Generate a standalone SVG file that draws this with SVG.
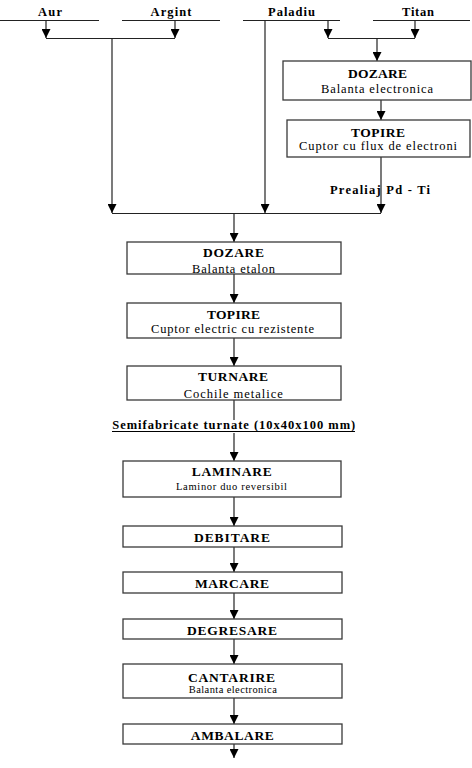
<svg xmlns="http://www.w3.org/2000/svg" width="472" height="768" viewBox="0 0 472 768">
<style>
.bg{fill:#fff}
.box{fill:#fff;stroke:#3a3a3a;stroke-width:1.3}
.ln{fill:none;stroke:#222;stroke-width:1.2}
.t{font-family:"Liberation Serif","Times New Roman",serif;font-weight:bold;font-size:13.5px;fill:#000;text-anchor:middle}
.s{font-family:"Liberation Serif","Times New Roman",serif;font-size:12.5px;fill:#000;text-anchor:middle}
.ss{font-family:"Liberation Serif","Times New Roman",serif;font-size:10.5px;fill:#000;text-anchor:middle}
.lab{font-family:"Liberation Serif","Times New Roman",serif;font-weight:bold;font-size:12.5px;fill:#000;text-anchor:middle}
</style>
<defs>
<marker id="ah" viewBox="0 0 10 10" refX="10" refY="5" markerWidth="9" markerHeight="9" markerUnits="userSpaceOnUse" orient="auto">
<path d="M0,0 L10,5 L0,10 Z" fill="#000"/>
</marker>
</defs>
<rect class="bg" x="0" y="0" width="472" height="768"/>

<g id="connectors">
<line class="ln" x1="0" y1="20.5" x2="99" y2="20.5"/>
<line class="ln" x1="122" y1="20.5" x2="220" y2="20.5"/>
<line class="ln" x1="243" y1="20.5" x2="340" y2="20.5"/>
<line class="ln" x1="373" y1="20.5" x2="470" y2="20.5"/>
<line class="ln" x1="46" y1="20.5" x2="46" y2="38" marker-end="url(#ah)"/>
<line class="ln" x1="175" y1="20.5" x2="175" y2="38" marker-end="url(#ah)"/>
<line class="ln" x1="46" y1="38.5" x2="175" y2="38.5"/>
<line class="ln" x1="112" y1="38.5" x2="112" y2="213" marker-end="url(#ah)"/>
<line class="ln" x1="265" y1="20.5" x2="265" y2="213" marker-end="url(#ah)"/>
<line class="ln" x1="328" y1="20.5" x2="328" y2="38" marker-end="url(#ah)"/>
<line class="ln" x1="415" y1="20.5" x2="415" y2="38" marker-end="url(#ah)"/>
<line class="ln" x1="328" y1="38.5" x2="415" y2="38.5"/>
<line class="ln" x1="377" y1="38.5" x2="377" y2="61" marker-end="url(#ah)"/>
<line class="ln" x1="381" y1="100" x2="381" y2="120" marker-end="url(#ah)"/>
<line class="ln" x1="381" y1="157" x2="381" y2="213" marker-end="url(#ah)"/>
<line class="ln" x1="112" y1="213.5" x2="381" y2="213.5"/>
<line class="ln" x1="234" y1="213.5" x2="234" y2="242" marker-end="url(#ah)"/>
<line class="ln" x1="234" y1="274" x2="234" y2="303" marker-end="url(#ah)"/>
<line class="ln" x1="234" y1="338" x2="234" y2="366" marker-end="url(#ah)"/>
<line class="ln" x1="234" y1="400" x2="234" y2="420"/>
<line class="ln" x1="234" y1="433" x2="234" y2="461" marker-end="url(#ah)"/>
<line class="ln" x1="234" y1="497" x2="234" y2="526" marker-end="url(#ah)"/>
<line class="ln" x1="234" y1="547" x2="234" y2="572" marker-end="url(#ah)"/>
<line class="ln" x1="234" y1="593" x2="234" y2="619" marker-end="url(#ah)"/>
<line class="ln" x1="234" y1="639" x2="234" y2="664" marker-end="url(#ah)"/>
<line class="ln" x1="234" y1="698" x2="234" y2="724" marker-end="url(#ah)"/>
<line class="ln" x1="234" y1="744" x2="234" y2="758" marker-end="url(#ah)"/>
</g>

<g id="input-aur"><text class="lab" x="50" y="16" textLength="24" lengthAdjust="spacing">Aur</text></g>
<g id="input-argint"><text class="lab" x="171" y="16" textLength="41" lengthAdjust="spacing">Argint</text></g>
<g id="input-paladiu"><text class="lab" x="291.5" y="16" textLength="47" lengthAdjust="spacing">Paladiu</text></g>
<g id="input-titan"><text class="lab" x="418" y="16" textLength="32" lengthAdjust="spacing">Titan</text></g>

<g id="dozare-pdti">
<rect class="box" x="283" y="61" width="188" height="39"/>
<text class="t" x="377.5" y="78" textLength="59" lengthAdjust="spacing">DOZARE</text>
<text class="s" x="377" y="92.5" textLength="112" lengthAdjust="spacing">Balanta electronica</text>
</g>
<g id="topire-pdti">
<rect class="box" x="287" y="120" width="183" height="37"/>
<text class="t" x="378" y="136.5" textLength="54" lengthAdjust="spacing">TOPIRE</text>
<text class="s" x="378" y="150" textLength="158" lengthAdjust="spacing">Cuptor cu flux de electroni</text>
</g>
<g id="label-prealiaj">
<text class="lab" x="380" y="194" textLength="100" lengthAdjust="spacing">Prealiaj Pd - Ti</text>
</g>

<g id="dozare">
<rect class="box" x="127" y="242" width="214" height="32"/>
<text class="t" x="233.5" y="257" textLength="61" lengthAdjust="spacing">DOZARE</text>
<text class="s" x="233.5" y="272.5" textLength="83" lengthAdjust="spacing">Balanta etalon</text>
</g>
<g id="topire">
<rect class="box" x="127" y="303" width="214" height="35"/>
<text class="t" x="233.5" y="319" textLength="53" lengthAdjust="spacing">TOPIRE</text>
<text class="s" x="232.5" y="333" textLength="163" lengthAdjust="spacing">Cuptor electric cu rezistente</text>
</g>
<g id="turnare">
<rect class="box" x="127" y="366" width="214" height="34"/>
<text class="t" x="233" y="381" textLength="70" lengthAdjust="spacing">TURNARE</text>
<text class="s" x="233.3" y="397.5" textLength="99" lengthAdjust="spacing">Cochile metalice</text>
</g>
<g id="label-semifabricate">
<text class="lab" x="233.7" y="429" textLength="243" lengthAdjust="spacing">Semifabricate turnate (10x40x100 mm)</text>
<line x1="112" y1="431.5" x2="355" y2="431.5" stroke="#000" stroke-width="1.1"/>
</g>
<g id="laminare">
<rect class="box" x="123" y="461" width="218" height="36"/>
<text class="t" x="231.7" y="476" textLength="80" lengthAdjust="spacing">LAMINARE</text>
<text class="ss" x="231.5" y="490" textLength="111" lengthAdjust="spacing">Laminor duo reversibil</text>
</g>
<g id="debitare">
<rect class="box" x="123" y="526" width="219" height="21"/>
<text class="t" x="232" y="542" textLength="76" lengthAdjust="spacing">DEBITARE</text>
</g>
<g id="marcare">
<rect class="box" x="123" y="572" width="219" height="21"/>
<text class="t" x="232" y="588" textLength="74" lengthAdjust="spacing">MARCARE</text>
</g>
<g id="degresare">
<rect class="box" x="123" y="619" width="219" height="20"/>
<text class="t" x="232" y="635" textLength="90" lengthAdjust="spacing">DEGRESARE</text>
</g>
<g id="cantarire">
<rect class="box" x="123" y="664" width="219" height="34"/>
<text class="t" x="231.5" y="681.5" textLength="87" lengthAdjust="spacing">CANTARIRE</text>
<text class="ss" x="232.8" y="693" textLength="88" lengthAdjust="spacing">Balanta electronica</text>
</g>
<g id="ambalare">
<rect class="box" x="123" y="724" width="219" height="20"/>
<text class="t" x="232.3" y="740" textLength="83" lengthAdjust="spacing">AMBALARE</text>
</g>
</svg>
